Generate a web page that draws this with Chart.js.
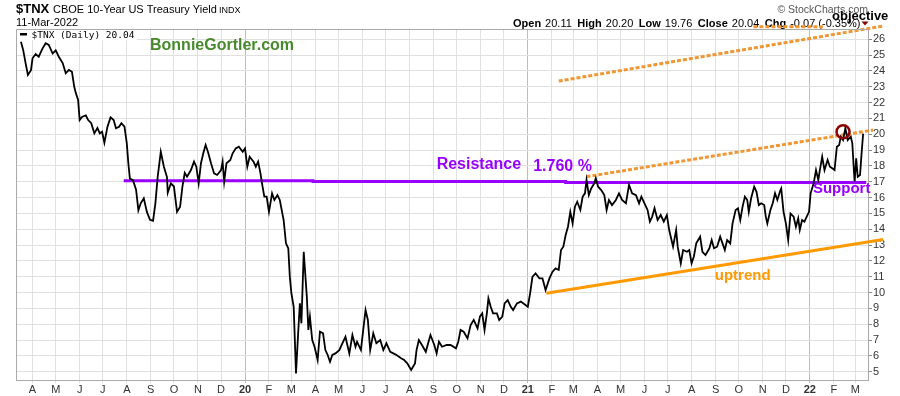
<!DOCTYPE html>
<html>
<head>
<meta charset="utf-8">
<script src="https://cdn.jsdelivr.net/npm/chart.js@4.4.1/dist/chart.umd.min.js"></script>
<style>
  html, body { margin: 0; padding: 0; background: #fff; }
</style>
</head>
<body>
<canvas id="tnxChart" width="900" height="396"></canvas>
<script>
// trading days, counted in calendar days from 1 Mar 2019
const days = [
  16, 19, 22, 25, 29, 31, 35, 39, 44, 48,
  52, 57, 61, 65, 70, 74, 78, 82, 85, 87,
  90, 92, 95, 100, 103, 107, 111, 115, 118, 121,
  124, 128, 132, 136, 139, 143, 146, 150, 153, 155,
  157, 161, 165, 168, 171, 175, 179, 183, 187, 190,
  193, 197, 201, 205, 206, 210, 214, 218, 222, 225,
  228, 231, 236, 240, 243, 246, 249, 252, 255, 258,
  262, 266, 270, 275, 277, 279, 282, 287, 290, 294,
  298, 303, 306, 309, 312, 317, 320, 323, 326, 328,
  331, 334, 337, 341, 344, 348, 351, 356, 359, 362,
  364, 366, 369, 372, 375, 377, 379, 382, 386, 388,
  390, 393, 396, 400, 403, 407, 410, 413, 416, 419,
  423, 428, 432, 436, 441, 445, 449, 451, 456, 459,
  462, 465, 468, 472, 476, 481, 485, 489, 494, 498,
  502, 508, 512, 516, 521, 526, 528, 531, 535, 540,
  543, 546, 551, 554, 557, 561, 567, 572, 579, 582,
  585, 589, 594, 598, 602, 607, 610, 613, 616, 619,
  621, 624, 627, 632, 635, 639, 642, 646, 650, 653,
  658, 663, 669, 672, 675, 678, 682, 687, 691, 695,
  700, 704, 708, 712, 715, 718, 721, 724, 727, 730,
  733, 736, 740, 743, 746, 748, 751, 754, 758, 760,
  763, 767, 771, 774, 777, 781, 786, 790, 794, 799,
  803, 807, 812, 816, 819, 823, 827, 830, 833, 836,
  840, 844, 848, 852, 855, 858, 860, 864, 866, 870,
  873, 878, 881, 884, 887, 890, 895, 898, 902, 907,
  910, 913, 917, 921, 924, 927, 930, 934, 937, 941,
  944, 947, 950, 953, 956, 958, 961, 965, 968, 971,
  974, 978, 980, 982, 986, 989, 992, 995, 999, 1000,
  1003, 1006, 1009, 1012, 1016, 1019, 1022, 1024, 1027, 1030,
  1033, 1036, 1038, 1042, 1045, 1048, 1050, 1053, 1056, 1060,
  1063, 1066, 1069, 1072, 1075, 1077, 1080, 1083, 1086, 1090,
  1092, 1094, 1095, 1097, 1099, 1102, 1104, 1106
];
const yields = [
  25.85, 25.3, 24.5, 23.75, 24.05, 24.8, 25.07, 24.9, 25.43, 25.75,
  25.64, 25.1, 25.3, 24.9, 24.5, 23.85, 24.06, 23.95, 23.0, 22.6,
  22.17, 20.9, 21.1, 21.2, 20.9, 20.7, 20.06, 20.4, 20.06, 20.16,
  19.47, 20.48, 21.07, 20.9, 20.38, 20.48, 20.7, 20.48, 19.43, 18.17,
  17.2, 17.1, 16.5, 15.2, 15.64, 15.96, 15.1, 14.6, 14.54, 15.64,
  17.32, 18.9, 17.95, 17.3, 16.31, 16.9, 16.7, 15.1, 15.43, 16.69,
  17.57, 17.32, 17.74, 18.27, 17.95, 16.9, 18.17, 18.8, 19.32, 18.9,
  18.17, 17.53, 17.43, 17.74, 18.27, 17.0, 18.17, 18.38, 18.8, 19.11,
  19.22, 18.9, 19.11, 17.95, 18.58, 18.27, 17.95, 18.27, 17.53, 16.9,
  16.06, 16.06, 15.1, 16.27, 15.85, 16.16, 15.85, 14.58, 13.11, 12.8,
  11.0, 9.96, 9.1, 4.9, 7.64, 9.32, 8.06, 12.58, 9.74, 7.64,
  8.48, 7.0, 6.58, 5.74, 7.53, 7.43, 6.37, 6.06, 5.63, 6.06,
  6.16, 6.37, 6.8, 7.21, 6.16, 7.32, 6.58, 6.9, 6.37, 7.64,
  8.9, 8.27, 6.37, 7.43, 6.8, 7.0, 6.37, 6.8, 6.26, 6.16,
  6.06, 5.85, 5.74, 5.53, 5.11, 5.53, 6.37, 7.0, 6.69, 6.26,
  6.8, 7.32, 6.69, 6.16, 6.9, 6.58, 6.69, 6.69, 6.48, 6.9,
  7.64, 7.53, 7.11, 7.95, 8.27, 7.74, 8.48, 8.69, 7.64, 8.69,
  9.64, 9.1, 8.69, 8.69, 8.27, 8.48, 9.32, 9.53, 9.1, 8.9,
  9.32, 9.43, 9.22, 9.1, 9.96, 11.0, 11.22, 10.9, 10.9, 10.16,
  10.9, 11.32, 11.53, 11.43, 12.69, 12.9, 13.64, 14.16, 15.1, 14.37,
  15.43, 15.74, 15.22, 16.06, 16.27, 17.11, 16.16, 16.58, 16.9, 17.22,
  16.69, 16.48, 16.16, 15.22, 15.85, 15.53, 15.85, 16.27, 15.85, 15.64,
  16.8, 16.27, 16.16, 15.64, 16.06, 15.64, 15.22, 14.48, 14.8, 15.33,
  14.58, 14.9, 14.48, 14.9, 13.95, 13.32, 12.9, 13.95, 12.9, 11.85,
  12.69, 12.58, 12.69, 11.85, 12.3, 13.11, 13.53, 12.58, 12.37, 12.8,
  13.32, 12.8, 12.9, 13.53, 13.11, 12.69, 13.32, 13.11, 14.37, 15.22,
  15.33, 14.58, 15.43, 16.06, 15.85, 15.1, 15.96, 16.69, 16.37, 15.53,
  15.64, 15.53, 14.8, 14.37, 15.22, 15.64, 16.27, 15.85, 16.48, 16.58,
  15.1, 14.37, 13.32, 15.0, 14.8, 14.16, 14.69, 13.95, 14.58, 14.48,
  14.8, 15.1, 16.27, 16.9, 17.74, 17.11, 17.74, 18.58, 17.74, 18.38,
  17.95, 17.85, 17.74, 19.22, 19.32, 19.85, 19.64, 20.38, 19.64, 19.85,
  19.43, 17.74, 17.0, 18.48, 17.32, 17.43, 18.8, 20.04
];

// month starts (days from 1 Mar 2019) and their labels
const monthTickDays = [31, 61, 92, 122, 153, 184, 214, 245, 275, 306, 337, 366,
  397, 427, 458, 488, 519, 550, 580, 611, 641, 672, 703, 731,
  762, 792, 823, 853, 884, 915, 945, 976, 1006, 1037, 1068, 1096];
const monthTickLabels = ['A', 'M', 'J', 'J', 'A', 'S', 'O', 'N', 'D', '20', 'F', 'M',
  'A', 'M', 'J', 'J', 'A', 'S', 'O', 'N', 'D', '21', 'F', 'M',
  'A', 'M', 'J', 'J', 'A', 'S', 'O', 'N', 'D', '22', 'F', 'M'];
const yTickValues = [5, 6, 7, 8, 9, 10, 11, 12, 13, 14, 15, 16, 17, 18, 19, 20, 21, 22, 23, 24, 25, 26];

// hand-drawn annotation lines
const resistanceDays = [149, 394, 394, 721, 721, 1110];
const resistanceYields = [17.07, 17.07, 17.02, 17.02, 16.95, 16.95];
const uptrendDays = [696, 1132];
const uptrendYields = [9.96, 13.35];
const channelDays = [748, 1119];
const channelYields = [17.32, 20.27];
const objectiveDays = [712, 1132];
const objectiveYields = [23.36, 26.84];
const objectiveFlatDays = [964, 1054];
const objectiveFlatYields = [26.8, 26.8];
const peakDays = [1080];
const peakYields = [20.16];

const quoteLabels = ['Open', 'High', 'Low', 'Close', 'Chg'];
const quoteValues = ['20.11', '20.20', '19.76', '20.04', '-0.07 (-0.35%)'];

const FONT = '"Liberation Sans", Arial, sans-serif';
const PURPLE = '#9900ff';
const ORANGE = '#ff9900';
const DOTTED = '#f09632';

const pts = (xs, ys) => xs.map((x, i) => ({ x: x, y: ys[i] }));

const notes = [
    { text: 'Resistance', day: 554, val: 17.78, color: PURPLE, font: 'bold 16px ' + FONT },
    { text: '1.760 %', day: 679, val: 17.65, color: PURPLE, font: 'bold 16px ' + FONT },
    { text: 'Support', day: 1041, val: 16.26, color: PURPLE, font: 'bold 15px ' + FONT },
    { text: 'uptrend', day: 914, val: 10.8, color: ORANGE, font: 'bold 15px ' + FONT }
];

const headerPlugin = {
    id: 'header',
    beforeDraw(chart) {
        const c = chart.ctx;
        c.save();
        c.fillStyle = '#fff';
        c.fillRect(0, 0, chart.width, chart.height);
        c.fillStyle = '#000';
        c.textBaseline = 'alphabetic';
        c.textAlign = 'left';
        c.font = 'bold 13px ' + FONT;
        c.fillText('$TNX', 16, 13);
        c.font = '11px ' + FONT;
        c.fillText('CBOE 10-Year US Treasury Yield', 53, 13);
        c.font = '9px ' + FONT;
        c.fillText('INDX', 219, 13);
        c.font = '11px ' + FONT;
        c.fillText('11-Mar-2022', 16, 26);

        let x = 513;
        quoteLabels.forEach((lab, i) => {
            c.font = 'bold 11px ' + FONT;
            c.fillText(lab, x, 26.5);
            x += c.measureText(lab).width + 4;
            c.font = '11px ' + FONT;
            c.fillText(quoteValues[i], x, 26.5);
            x += c.measureText(quoteValues[i]).width + 5.5;
        });
        c.fillStyle = '#8b0000';
        c.beginPath();
        c.moveTo(861.5, 21.5);
        c.lineTo(868.5, 21.5);
        c.lineTo(865, 25.5);
        c.closePath();
        c.fill();

        c.fillStyle = '#555';
        c.font = '10.5px ' + FONT;
        c.textAlign = 'right';
        c.fillText('\u00a9 StockCharts.com', 868, 13);
        c.fillStyle = '#000';
        c.textAlign = 'left';
        c.font = 'bold 13px ' + FONT;
        c.fillText('objective', 832, 19.5);
        c.restore();
    },
    afterDraw(chart) {
        const c = chart.ctx;
        const area = chart.chartArea;
        const xs = chart.scales.x;
        const ys = chart.scales.y;
        c.save();
        // frame
        c.strokeStyle = '#aaa';
        c.lineWidth = 1;
        c.beginPath();
        c.moveTo(area.left + 0.5, area.bottom);
        c.lineTo(area.left + 0.5, area.top + 0.5);
        c.lineTo(area.right, area.top + 0.5);
        c.stroke();

        // legend
        c.fillStyle = '#fff';
        c.fillRect(area.left + 1, area.top + 1, 120, 10);
        c.fillStyle = '#000';
        c.fillRect(20, 33, 7, 2.5);
        c.font = '9.5px "DejaVu Sans Mono", monospace';
        c.textBaseline = 'middle';
        c.fillText('$TNX (Daily) 20.04', 31.5, 35.5);

        c.textBaseline = 'alphabetic';
        c.fillStyle = '#478a2c';
        c.font = 'bold 16px ' + FONT;
        c.fillText('BonnieGortler.com', 150, 50);

        notes.forEach(n => {
            c.fillStyle = n.color;
            c.font = n.font;
            c.fillText(n.text, xs.getPixelForValue(n.day), ys.getPixelForValue(n.val));
        });
        c.restore();
    }
};

new Chart(document.getElementById('tnxChart'), {
    type: 'line',
    data: {
        datasets: [{
            data: pts(peakDays, peakYields),
            showLine: false,
            pointRadius: 6.5,
            pointBorderWidth: 2.5,
            pointBorderColor: '#8b0000',
            pointBackgroundColor: 'rgba(0,0,0,0)',
            clip: false
        }, {
            data: pts(days, yields),
            borderColor: '#000',
            borderWidth: 1.8,
            pointRadius: 0,
            tension: 0
        }, {
            data: pts(resistanceDays, resistanceYields),
            borderColor: PURPLE,
            borderWidth: 3,
            pointRadius: 0,
            clip: false
        }, {
            data: pts(uptrendDays, uptrendYields),
            borderColor: ORANGE,
            borderWidth: 3,
            pointRadius: 0,
            clip: false
        }, {
            data: pts(channelDays, channelYields),
            borderColor: DOTTED,
            borderWidth: 3,
            borderDash: [4, 2],
            pointRadius: 0,
            clip: false
        }, {
            data: pts(objectiveDays, objectiveYields),
            borderColor: DOTTED,
            borderWidth: 3,
            borderDash: [4, 2],
            pointRadius: 0,
            clip: false
        }, {
            data: pts(objectiveFlatDays, objectiveFlatYields),
            borderColor: DOTTED,
            borderWidth: 3,
            borderDash: [4, 2],
            pointRadius: 0,
            clip: false
        }]
    },
    options: {
        responsive: false,
        animation: false,
        layout: { padding: { left: 16, top: 29, right: 0, bottom: 0 } },
        plugins: {
            legend: { display: false },
            tooltip: { enabled: false }
        },
        scales: {
            x: {
                type: 'linear',
                min: 9.6,
                max: 1112.3,
                afterBuildTicks: scale => {
                    scale.ticks = monthTickDays.map(v => ({ value: v }));
                },
                afterFit: scale => { scale.height = 16; },
                ticks: {
                    autoSkip: false,
                    maxRotation: 0,
                    padding: 0,
                    color: '#333',
                    font: ctx => ({
                        family: FONT,
                        size: 11,
                        weight: monthTickLabels[ctx.index] && monthTickLabels[ctx.index].length === 2 ? 'bold' : 'normal'
                    }),
                    callback: (value, index) => monthTickLabels[index]
                },
                grid: {
                    color: ctx => (monthTickLabels[ctx.index] && monthTickLabels[ctx.index].length === 2) ? '#bdbdbd' : '#e0e0e0',
                    tickLength: 3
                },
                border: { color: '#aaa' }
            },
            y: {
                position: 'right',
                min: 4.48,
                max: 26.65,
                afterBuildTicks: scale => {
                    scale.ticks = yTickValues.map(v => ({ value: v }));
                },
                afterFit: scale => { scale.width = 32; },
                ticks: {
                    padding: 1,
                    color: '#333',
                    font: { family: FONT, size: 11 },
                    callback: v => v
                },
                grid: {
                    color: '#e0e0e0',
                    tickColor: '#888',
                    tickLength: 4
                },
                border: { color: '#aaa' }
            }
        }
    },
    plugins: [headerPlugin]
});
</script>
</body>
</html>
